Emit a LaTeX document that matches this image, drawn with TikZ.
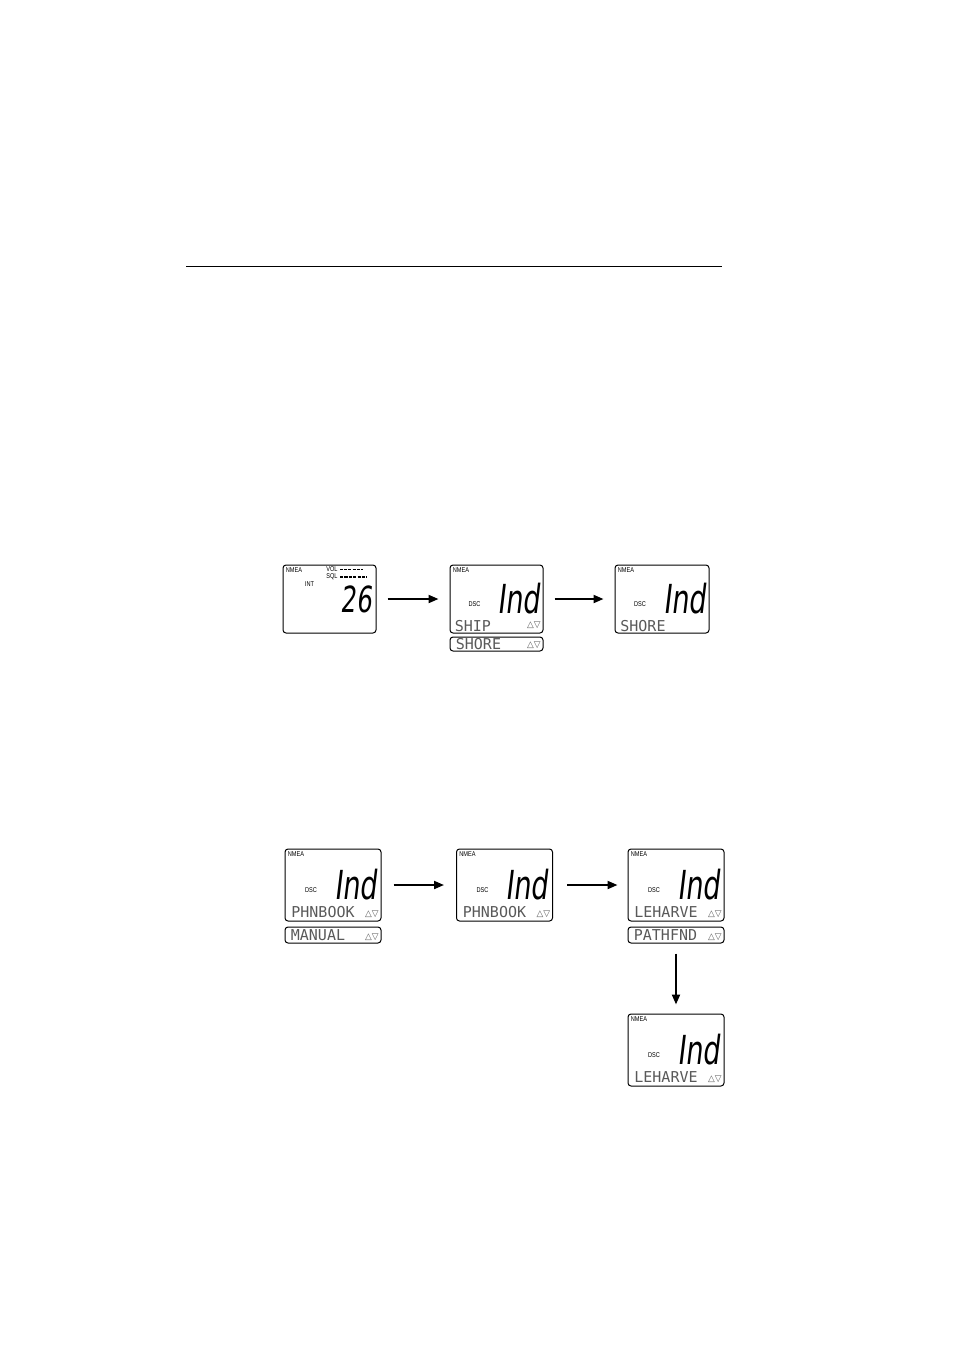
\documentclass[tikz,border=0pt]{standalone}
\usepackage{fontspec}
\usetikzlibrary{positioning,arrows.meta}
\newfontfamily\segFont{DejaVu Sans}[FakeStretch=0.68,FakeSlant=0.12]
\newfontfamily\lcdFont{DejaVu Sans Mono}
\newfontfamily\tinyFont{Liberation Sans}[FakeStretch=0.8]
\newfontfamily\symFont{DejaVu Sans}
\colorlet{lcdgray}{black!65}
\tikzset{
  screen/.style={draw, rounded corners=1.5pt, line width=0.5pt, minimum width=46.5pt, minimum height=34pt, inner sep=0pt},
  strip/.style={draw, rounded corners=1.5pt, line width=0.5pt, minimum width=46.5pt, minimum height=7pt, inner sep=0pt},
  tinylbl/.style={font=\tinyFont\fontsize{3.5}{4}\selectfont, inner sep=0pt},
  bigseg/.style={font=\segFont\fontsize{20}{20}\selectfont, inner sep=0pt, anchor=base east},
  lcdline/.style={font=\lcdFont\fontsize{7.5}{8}\selectfont, text=lcdgray, inner sep=0pt, anchor=base west},
  updown/.style={font=\symFont\fontsize{4.4}{5}\selectfont, text=lcdgray, inner sep=0pt, anchor=base east},
  flow/.style={line width=1pt, -{Triangle[length=5pt,width=4pt]}, shorten <=5.5pt, shorten >=5.5pt}
}
% contents of a DSC "Ind" screen
\newcommand{\indScreen}[2]{%
  \node[tinylbl, anchor=north west] at ([shift={(3,3)}]#1.north west) {NMEA};
  \node[tinylbl] at ([shift={(-22,5)}]#1.center) {DSC};
  \node[bigseg] at ([shift={(44,14)}]#1.center) {Ind};
  \node[lcdline] at ([shift={(-42,32)}]#1.center) {#2};
}
% up/down marks, #2 = baseline below centre
\newcommand{\upDown}[2]{\node[updown] at ([shift={(-2.5,#2)}]#1.east) {△▽};}
\begin{document}
\begin{tikzpicture}[x=0.5pt,y=-0.5pt]
    \useasboundingbox (0,0) rectangle (954,1351);

    % header rule
    \draw[line width=0.5pt] (186,266) -- (722,266);

    % first row: channel -> ship/shore -> shore
    \node[screen] (chan) at (329.5,599) {};
    \node[screen] (shipSel) at (496.5,599) {};
    \node[screen, minimum width=47pt] (shore) at (662,599) {};
    \node[strip, below=1.5pt of shipSel] (shipStrip) {};

    \node[tinylbl, anchor=north west] at ([shift={(3,3)}]chan.north west) {NMEA};
    \node[tinylbl, anchor=west] at ([shift={(-3.5,-30)}]chan.center) {VOL};
    \node[tinylbl, anchor=west] at ([shift={(-3.5,-22)}]chan.center) {SQL};
    \node[tinylbl] at ([shift={(-20,-15)}]chan.center) {INT};
    \draw[dash pattern=on 1.5pt off 0.6pt, line width=0.5pt] ([shift={(10.5,-30)}]chan.center) -- ++(23,0);
    \draw[dash pattern=on 1.6pt off 0.6pt, line width=1pt] ([shift={(10.5,-22)}]chan.center) -- ++(27,0);
    \node[bigseg, font=\segFont\fontsize{18}{18}\selectfont] at ([shift={(42.5,13)}]chan.center) {26};

    \indScreen{shipSel}{SHIP}
    \upDown{shipSel}{28}
    \node[lcdline] at ([shift={(6,5)}]shipStrip.west) {SHORE};
    \node[updown] at ([shift={(-2.5,3.5)}]shipStrip.east) {△▽};
    \indScreen{shore}{SHORE}

    \draw[flow] (chan) -- (shipSel);
    \draw[flow] (shipSel) -- (shore);

    % second row: phone book -> phone book -> le havre / pathfinder
    \begin{scope}[screen/.append style={minimum width=48pt, minimum height=36pt},
                  strip/.append style={minimum width=48pt, minimum height=8pt}]
        \node[screen] (phnSel) at (333,885) {};
        \node[screen] (phnBook) at (504.5,885) {};
        \node[screen] (leSel) at (676,885) {};
        \node[screen] (leHarve) at (676,1050) {};
        \node[strip, below=2.5pt of phnSel] (manStrip) {};
        \node[strip, below=2.5pt of leSel] (pathStrip) {};
    \end{scope}

    \indScreen{phnSel}{PHNBOOK}
    \upDown{phnSel}{31}
    \node[lcdline] at ([shift={(6,5.5)}]manStrip.west) {MANUAL};
    \node[updown] at ([shift={(-2.5,4)}]manStrip.east) {△▽};
    \indScreen{phnBook}{PHNBOOK}
    \upDown{phnBook}{31}
    \indScreen{leSel}{LEHARVE}
    \upDown{leSel}{31}
    \node[lcdline] at ([shift={(6,5.5)}]pathStrip.west) {PATHFND};
    \node[updown] at ([shift={(-2.5,4)}]pathStrip.east) {△▽};
    \indScreen{leHarve}{LEHARVE}
    \upDown{leHarve}{31}

    \draw[flow, shorten <=6pt, shorten >=6pt] (phnSel) -- (phnBook);
    \draw[flow, shorten <=7pt, shorten >=5pt] (phnBook) -- (leSel);
    \draw[flow, shorten <=5pt, shorten >=4.5pt] (pathStrip) -- (leHarve);
\end{tikzpicture}
\end{document}
